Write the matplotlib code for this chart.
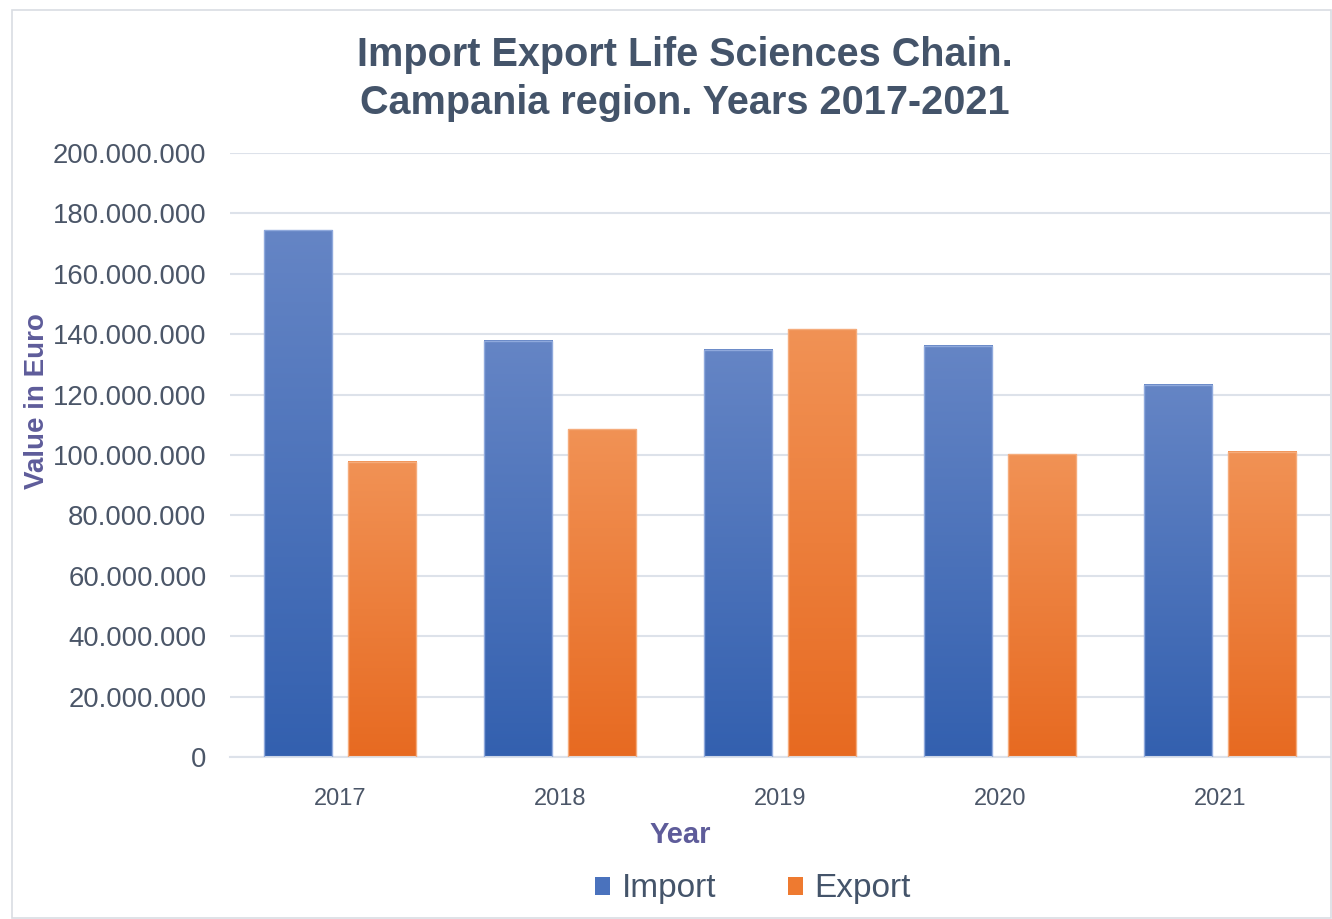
import numpy as np
import matplotlib
matplotlib.use("Agg")
import matplotlib.pyplot as plt
from matplotlib.colors import LinearSegmentedColormap
from matplotlib.patches import Rectangle, Patch
from matplotlib.ticker import FuncFormatter, MultipleLocator

years = ["2017", "2018", "2019", "2020", "2021"]
import_vals = [174.5e6, 137.8e6, 134.8e6, 136.2e6, 123.2e6]
export_vals = [97.7e6, 108.6e6, 141.7e6, 100.2e6, 101.0e6]

plt.rcParams['font.family'] = ['Liberation Sans', 'DejaVu Sans']

W, H = 1332, 919
fig = plt.figure(figsize=(W / 100, H / 100), dpi=100)
ax = fig.add_axes([230 / W, 1 - 757 / H, 1100 / W, (757 - 153) / H])

x = np.arange(len(years))
bw = 0.31
off = 0.19
b_imp = ax.bar(x - off, import_vals, bw, facecolor='none', edgecolor='#8FA9DC', linewidth=1, zorder=3)
b_exp = ax.bar(x + off, export_vals, bw, facecolor='none', edgecolor='#F5AC7C', linewidth=1, zorder=3)

# vertical gradient fill for each bar
grad = np.linspace(0, 1, 256).reshape(-1, 1)
cm_blue = LinearSegmentedColormap.from_list('b', ['#3360AF', '#6585C5'])
cm_orange = LinearSegmentedColormap.from_list('o', ['#E76A21', '#F19255'])
for bars, cm in ((b_imp, cm_blue), (b_exp, cm_orange)):
    for p in bars:
        ax.imshow(grad, cmap=cm, origin='lower', aspect='auto', zorder=2,
                  extent=[p.get_x(), p.get_x() + p.get_width(), 0, p.get_height()])

ax.set_xlim(-0.5, len(years) - 0.5)
ax.set_ylim(0, 200e6)
ax.yaxis.set_major_locator(MultipleLocator(20e6))
ax.yaxis.set_major_formatter(FuncFormatter(lambda v, _: f"{int(v):,}".replace(",", ".")))
ax.set_xticks(x)
ax.set_xticklabels(years)
ax.grid(axis='y', color='#DDE2EA', linewidth=1.5, zorder=0)
ax.set_axisbelow(True)
for s in ('top', 'right', 'left'):
    ax.spines[s].set_visible(False)
ax.spines['bottom'].set_color('#DDE2EA')
ax.spines['bottom'].set_linewidth(1.5)
ax.tick_params(axis='y', length=0, pad=17, labelsize=19.8, labelcolor='#4B5668')
ax.tick_params(axis='x', length=0, pad=22, labelsize=17, labelcolor='#4B5668')

ax.set_ylabel("Value in Euro", fontsize=20, fontweight='bold', color='#5E5C9A')
ax.set_xlabel("Year", fontsize=21, fontweight='bold', color='#5E5C9A')
ax.yaxis.set_label_coords(-180 / 1100, 0.59)
ax.xaxis.set_label_coords(450 / 1100, -64 / 604)

fig.text(685 / W, 1 - 79 / H, "Import Export Life Sciences Chain.\nCampania region. Years 2017-2021",
         ha='center', va='center', fontsize=28.5, fontweight='bold', color='#44546A', linespacing=1.34)

handles = [Patch(facecolor='#4A72BD', label='Import'), Patch(facecolor='#EE7A30', label='Export')]
fig.legend(handles=handles, loc='center', bbox_to_anchor=(753 / W, 1 - 889 / H), ncol=2,
           frameon=False, fontsize=24, handlelength=0.45, handleheight=0.45, handletextpad=0.35,
           columnspacing=2.15, labelcolor='#44546A')

fig.patches.append(Rectangle((12 / W, 1 / H), (W - 13) / W, 1 - 11 / H, transform=fig.transFigure,
                             fill=False, edgecolor='#D9DDE3', linewidth=1.2))

fig.savefig("out.png", dpi=100)
